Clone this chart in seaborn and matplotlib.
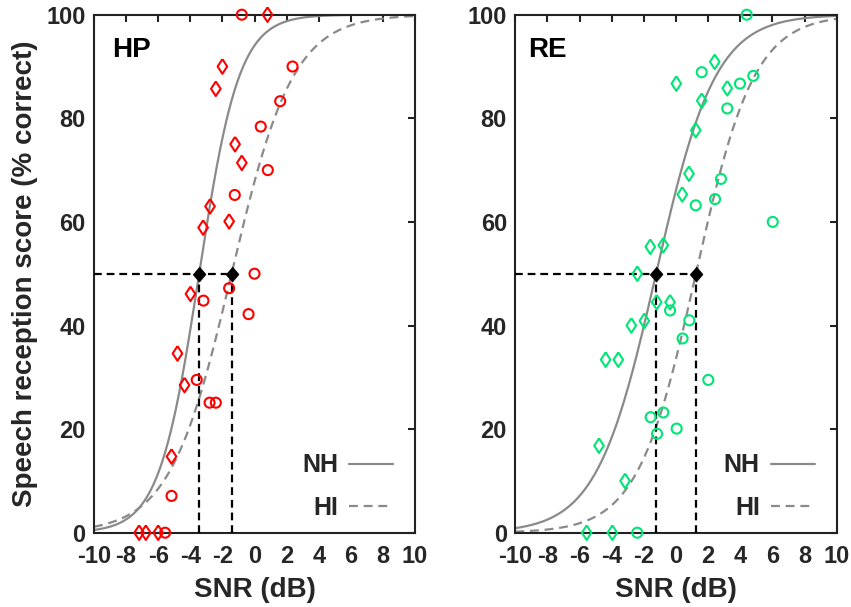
import numpy as np
import pandas as pd
import matplotlib
matplotlib.use("Agg")
import matplotlib.pyplot as plt
import seaborn as sns
from matplotlib.lines import Line2D

# ---------------- data ----------------
x_ticks = [-10, -8, -6, -4, -2, 0, 2, 4, 6, 8, 10]
y_ticks = [0, 20, 40, 60, 80, 100]
panel_names = ["HP", "RE"]
legend_labels = ["NH", "HI"]

hp_nh_snr = [0.81, -2.0, -2.41, -1.21, -0.79, -2.77, -1.58, -3.2, -3.99, -4.8, -4.36, -5.17, -7.19, -6.77, -6.0]
hp_nh_score = [100, 90.0, 85.7, 75.0, 71.4, 63.0, 60.1, 58.9, 46.1, 34.6, 28.5, 14.7, 0, 0, 0]
hp_hi_snr = [-0.79, 2.37, 1.6, 0.39, 0.83, -1.23, 0.0, -1.58, -3.18, -0.37, -3.6, -2.8, -2.41, -5.17, -5.57]
hp_hi_score = [100, 90.0, 83.3, 78.4, 70.0, 65.2, 50.0, 47.2, 44.8, 42.2, 29.5, 25.1, 25.1, 7.1, 0]

re_nh_snr = [2.41, 0.02, 3.19, 1.60, 1.23, 0.81, 0.39, -1.60, -0.79, -2.41, -1.20, -0.37, -2.78, -1.97,
             -4.38, -3.59, -4.79, -3.17, -5.56, -3.96]
re_nh_score = [90.9, 86.7, 85.8, 83.4, 77.7, 69.3, 65.3, 55.2, 55.5, 50.0, 44.5, 44.5, 40.0, 40.9,
               33.4, 33.4, 16.8, 10.0, 0, 0]
re_hi_snr = [4.40, 1.60, 4.81, 3.98, 3.19, 2.80, 2.43, 1.23, 6.02, -0.37, 0.83, 0.41, 2.01, -1.58,
             -0.79, -1.18, 0.04, -2.41]
re_hi_score = [100, 88.9, 88.2, 86.7, 81.9, 68.3, 64.4, 63.2, 60.0, 42.9, 41.0, 37.5, 29.5, 22.3,
               23.2, 19.1, 20.1, 0]

# fitted psychometric functions (SRT in dB, slope)
hp_srt = [-3.45, -1.43]
hp_slope = [0.80, 0.52]
re_srt = [-1.24, 1.24]
re_slope = [0.54, 0.55]

colors = {"HP": "#FF0000", "RE": "#00E676"}

# ---------------- style ----------------
sns.set_theme(style="white")
plt.rcParams['font.family'] = ['Liberation Sans', 'DejaVu Sans']
plt.rcParams['font.weight'] = 'bold'
plt.rcParams['axes.labelweight'] = 'bold'
txt_col = "#262626"
curve_col = "#8A8A8A"

fig = plt.figure(figsize=(8.51, 6.07), dpi=100)
W, H = 851, 607
ax1 = fig.add_axes([94 / W, 1 - 532.7 / H, 321 / W, 518 / H])
ax2 = fig.add_axes([515.3 / W, 1 - 532.7 / H, 321.4 / W, 518 / H])

diamond_open = [(0, 1), (0.66, 0), (0, -1), (-0.66, 0), (0, 1)]
diamond_black = [(0, 1), (0.85, 0), (0, -1), (-0.85, 0)]

panels = [
    (ax1, "HP", hp_nh_snr, hp_nh_score, hp_hi_snr, hp_hi_score, hp_srt, hp_slope, 0.056),
    (ax2, "RE", re_nh_snr, re_nh_score, re_hi_snr, re_hi_score, re_srt, re_slope, 0.040),
]

xgrid = np.linspace(-10, 10, 401)

for ax, name, nx, ny, hx, hy, srt, slope, tx in panels:
    col = colors[name]
    # psychometric curves
    for i, ls in enumerate(["-", (0, (4, 2.6))]):
        yfit = 100.0 / (1.0 + np.exp(-slope[i] * (xgrid - srt[i])))
        sns.lineplot(x=xgrid, y=yfit, ax=ax, color=curve_col, linewidth=1.6,
                     linestyle=ls, zorder=2)
    # SRT guide lines
    ax.plot([-10, max(srt)], [50, 50], color="black", linewidth=1.6,
            linestyle=(0, (3.5, 2.2)), zorder=3)
    for s in srt:
        ax.plot([s, s], [0, 50], color="black", linewidth=1.6,
                linestyle=(0, (3.5, 2.2)), zorder=3)
    # data points
    sns.scatterplot(x=nx, y=ny, ax=ax, marker=diamond_open, s=110, color=col,
                    facecolor="none", edgecolor=col, linewidth=1.5,
                    clip_on=False, zorder=4)
    sns.scatterplot(x=hx, y=hy, ax=ax, marker="o", s=52, color=col,
                    facecolor="none", edgecolor=col, linewidth=1.5,
                    clip_on=False, zorder=4)
    # SRT markers
    sns.scatterplot(x=srt, y=[50, 50], ax=ax, marker=diamond_black, s=120,
                    color="black", edgecolor="black", linewidth=0.5,
                    clip_on=False, zorder=6)

    ax.set_xlim(-10, 10)
    ax.set_ylim(0, 100)
    ax.set_xticks(x_ticks)
    ax.set_yticks(y_ticks)
    ax.set_xticklabels([str(v) for v in x_ticks])
    ax.set_yticklabels([str(v) for v in y_ticks])
    ax.tick_params(direction="in", top=True, right=True, length=5, width=1.5,
                   labelsize=17, labelcolor=txt_col, color="#222222")
    ax.tick_params(axis="x", pad=9)
    ax.tick_params(axis="y", pad=6)
    for sp in ax.spines.values():
        sp.set_color("#222222")
        sp.set_linewidth(1.5)
    ax.set_xlabel("SNR (dB)", fontsize=20, fontweight="bold", color=txt_col, labelpad=6)
    ax.set_ylabel("")
    ax.text(tx, 0.918, name, transform=ax.transAxes, fontsize=20,
            fontweight="bold", color="black", va="baseline", ha="left")

    handles = [Line2D([], [], color=curve_col, linewidth=1.6, linestyle="-"),
               Line2D([], [], color=curve_col, linewidth=1.6, linestyle=(0, (4, 2.6)))]
    leg = ax.legend(handles, legend_labels, loc="lower right", markerfirst=False,
                    frameon=False, prop={"size": 18, "weight": "bold"},
                    handlelength=1.75, handletextpad=0.45, labelspacing=0.75,
                    borderaxespad=0, bbox_to_anchor=(0.963, 0.005))
    for t in leg.get_texts():
        t.set_color(txt_col)

ax1.set_ylabel("Speech reception score (% correct)", fontsize=20,
               fontweight="bold", color=txt_col, labelpad=6)

fig.savefig("out.png", dpi=100)
